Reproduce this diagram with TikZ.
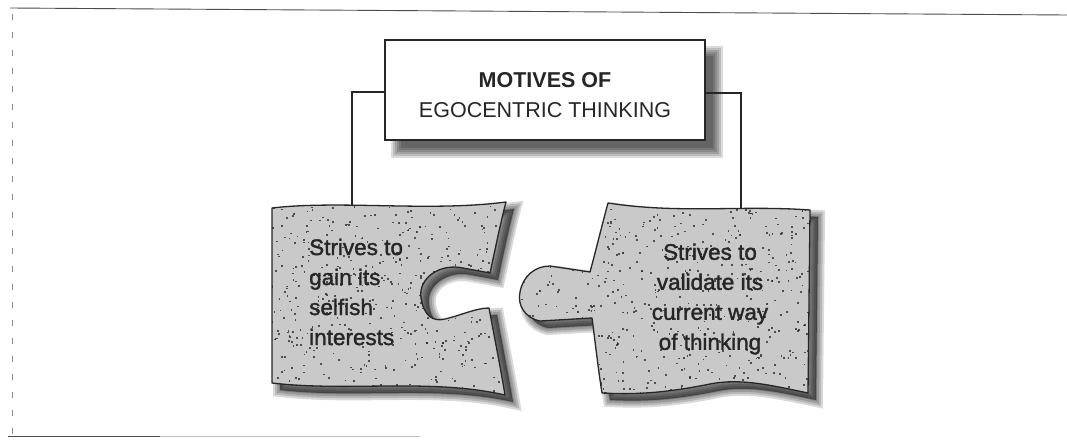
\documentclass[tikz,border=0pt]{standalone}
\usepackage{fontspec}
\setmainfont{Liberation Sans}
\newfontfamily\piecefont{Liberation Sans}[FakeBold=1.5]
\definecolor{piecegray}{RGB}{201,201,201}
\definecolor{ink}{RGB}{38,38,38}

% outlines of the two puzzle pieces
\def\leftpiece{(272,208) .. controls (340,200) and (430,212) .. (506,202)
  .. controls (500,225) and (495,250) .. (490,273)
  -- (463,268)
  .. controls (440,263) and (418,278) .. (421,298)
  .. controls (424,316) and (433,322) .. (445,319)
  .. controls (462,315) and (476,308) .. (489,308)
  .. controls (494,335) and (500,365) .. (505,395)
  .. controls (430,378) and (350,392) .. (272,383)
  -- cycle}
\def\rightpiece{(608,203) .. controls (680,214) and (740,205) .. (810,210)
  -- (808,393)
  .. controls (770,385) and (740,378) .. (710,384)
  .. controls (670,392) and (640,395) .. (602,393)
  .. controls (598,368) and (595,340) .. (592,318)
  -- (540,321)
  .. controls (525,318) and (517,305) .. (520,292)
  .. controls (523,276) and (535,266) .. (550,266)
  -- (590,272)
  .. controls (596,250) and (602,225) .. (608,203)
  -- cycle}

\begin{document}
\begin{tikzpicture}[x=1pt,y=-1pt,
  piece/.style={fill=piecegray, draw=ink, line width=1.3pt, line join=round},
  link/.style={draw=ink, line width=1.4pt},
  piecetext/.style={font=\piecefont\fontsize{22.5}{30}\selectfont, text=ink, inner sep=0pt},
  titlebox/.style={draw=ink, line width=1.3pt, fill=white, minimum width=320pt,
    minimum height=100pt, inner sep=0pt},
  frameline/.style={draw=black!70, line width=0.9pt}]
\useasboundingbox (0,0) rectangle (1067,439);
\fill[white] (0,0) rectangle (1067,439);

% page frame
\draw[frameline] (10,8) -- (1067,15);
\draw[frameline, black!45, dash pattern=on 6pt off 12pt] (12,14) -- (12,434);
\draw[frameline] (8,436) -- (160,436);
\draw[frameline, black!25] (160,436) -- (420,436);

% soft shadows
\foreach \k in {0,...,5}
  \fill[black, opacity=0.14] (391+2*\k,46+2*\k) rectangle (723-2*\k,158-2*\k);
\foreach \w in {14,10,6,2}{
  \filldraw[shift={(8,7)}, black, opacity=0.15, line width=\w pt] \leftpiece;
  \filldraw[shift={(8,7)}, black, opacity=0.15, line width=\w pt] \rightpiece;
}

% connectors from the title to the pieces
\coordinate (ltop) at (352,207);
\coordinate (rtop) at (741,208);
\node[titlebox] (title) at (545,90) {};
\draw[link] ([yshift=-2pt]title.west) -| (ltop);
\draw[link] ([yshift=-3pt]title.east) -| (rtop);
\node[font=\fontsize{21.5}{30}\selectfont, align=center, text=ink] (titletext) at (545,95)
  {\textbf{MOTIVES OF}\\EGOCENTRIC THINKING};

% the pieces with a stippled fill
\fill[piecegray] \leftpiece;
\fill[piecegray] \rightpiece;
\pgfmathsetseed{42}
\begin{scope}
  \clip \leftpiece;
  \foreach \i in {1,...,550}{
    \pgfmathsetmacro{\px}{268+rnd*242}
    \pgfmathsetmacro{\py}{198+rnd*200}
    \fill[ink, opacity=0.75] (\px,\py) rectangle ++(1.7,1.7);
  }
\end{scope}
\begin{scope}
  \clip \rightpiece;
  \foreach \i in {1,...,600}{
    \pgfmathsetmacro{\px}{515+rnd*298}
    \pgfmathsetmacro{\py}{198+rnd*200}
    \fill[ink, opacity=0.75] (\px,\py) rectangle ++(1.7,1.7);
  }
\end{scope}
\draw[piece, fill=none] \leftpiece;
\draw[piece, fill=none] \rightpiece;

\node[piecetext, anchor=west, align=left] (lefttext) at (309,292)
  {Strives to\\gain its\\selfish\\interests};
\node[piecetext, align=center] (righttext) at (710,299)
  {Strives to\\validate its\\current way\\of thinking};
\end{tikzpicture}
\end{document}
